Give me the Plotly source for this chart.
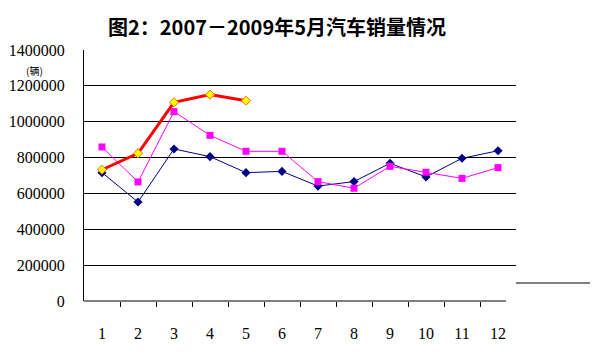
import plotly.graph_objects as go

months = list(range(1, 13))
month_labels = [str(m) for m in months]
sales_2007 = [716000, 552000, 848000, 805000, 716000, 723000, 641000, 666000, 768000, 692000, 796000, 838000]
sales_2008 = [859000, 664000, 1056000, 924000, 835000, 835000, 666000, 629000, 751000, 718000, 684000, 744000]
sales_2009 = [732000, 824000, 1108000, 1151000, 1117000]
y_ticks = [0, 200000, 400000, 600000, 800000, 1000000, 1200000, 1400000]

title_text = "图2：2007－2009年5月汽车销量情况"
unit_text = "(辆)"

num_font = dict(family="Liberation Serif", size=16, color="black")

# the page body has an 8px margin, so the figure is offset by 8px
OFF = 8
W, H = 601 - OFF, 356 - OFF
L, T = 84 - OFF, 50 - OFF
R = W - (516 - OFF)
B = H - (301 - OFF)
PW = W - L - R
PH = H - T - B

fig = go.Figure()
fig.add_trace(go.Scatter(
    x=months, y=sales_2007, mode="lines+markers", name="2007",
    line=dict(color="#000080", width=1),
    marker=dict(symbol="diamond", size=7, color="#000080"),
))
fig.add_trace(go.Scatter(
    x=months, y=sales_2008, mode="lines+markers", name="2008",
    line=dict(color="#FF00FF", width=1),
    marker=dict(symbol="square", size=7, color="#FF00FF"),
))
fig.add_trace(go.Scatter(
    x=months[:len(sales_2009)], y=sales_2009, mode="lines+markers", name="2009",
    line=dict(color="#FF0000", width=3),
    marker=dict(symbol="diamond", size=7, color="#FFFF00", line=dict(color="#FF6600", width=1)),
))

fig.update_layout(
    width=W, height=H,
    margin=dict(l=L, r=R, t=T, b=B),
    paper_bgcolor="white", plot_bgcolor="white",
    showlegend=False,
    title=dict(text=title_text, x=(277 - OFF) / W, xanchor="center", y=1 - (28 - OFF) / H, yanchor="middle",
               font=dict(family="Noto Sans CJK SC", size=20, color="black", weight="bold")),
)
fig.update_xaxes(
    range=[0.5, 12.5], tickvals=months, ticktext=month_labels, ticks="",
    showgrid=False, zeroline=False, showline=False, automargin=False,
    tickfont=num_font, ticklabelstandoff=21,
    minor=dict(tickvals=[m + 0.5 for m in months[:-1]], ticks="outside", ticklen=5,
               tickcolor="black", tickwidth=1, showgrid=False),
)
fig.update_yaxes(
    range=[0, 1400000], tickvals=y_ticks, ticktext=[str(v) for v in y_ticks],
    showgrid=True, gridcolor="black", gridwidth=1, zeroline=False, automargin=False,
    showline=True, linecolor="black", linewidth=1, ticks="",
    tickfont=num_font, ticklabelstandoff=15,
)
# x axis line (slightly shorter than the gridlines, as in the reference)
fig.add_shape(type="line", xref="paper", yref="paper", x0=0, x1=(506 - 84) / PW, y0=0, y1=0,
              line=dict(color="black", width=1))
# stray line at the right
fig.add_shape(type="line", xref="paper", yref="paper", x0=1.0, x1=(590 - 84) / PW,
              y0=(301 - 283) / PH, y1=(301 - 283) / PH, line=dict(color="black", width=1))
fig.add_annotation(text=unit_text, xref="paper", yref="paper", x=(34 - 84) / PW, y=(301 - 70) / PH,
                   showarrow=False, xanchor="center", yanchor="middle",
                   font=dict(family="Noto Sans CJK SC", size=10, color="black"))

fig.write_html("out.html")
